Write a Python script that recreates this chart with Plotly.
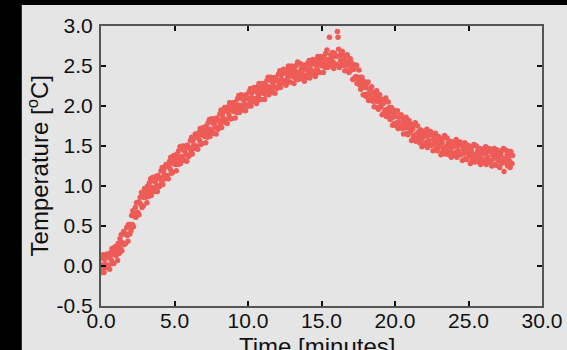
import plotly.graph_objects as go

# Temperature readings, 24 samples per minute (every 2.5 s), t = 0 .. 28 min
# one row per half minute
temperature = [
    0.02, -0.08, 0.10, -0.03, 0.14, -0.08, 0.08, 0.02, 0.11, -0.02, 0.15, 0.01,
    0.00, 0.13, -0.04, 0.10, 0.17, 0.07, 0.22, 0.03, 0.16, 0.03, 0.14, 0.24,
    0.21, 0.13, 0.19, 0.07, 0.28, 0.24, 0.16, 0.34, 0.22, 0.39, 0.19, 0.29,
    0.28, 0.43, 0.27, 0.40, 0.28, 0.40, 0.48, 0.38, 0.31, 0.52, 0.50, 0.40,
    0.52, 0.44, 0.63, 0.52, 0.69, 0.49, 0.66, 0.62, 0.73, 0.61, 0.79, 0.66,
    0.67, 0.80, 0.64, 0.79, 0.86, 0.77, 0.92, 0.73, 0.87, 0.75, 0.86, 0.97,
    0.94, 0.86, 0.91, 0.79, 1.00, 0.96, 0.87, 1.04, 0.92, 1.09, 0.88, 0.98,
    0.97, 1.11, 0.95, 1.06, 0.93, 1.05, 1.12, 1.00, 0.93, 1.13, 1.10, 0.99,
    1.10, 1.01, 1.19, 1.06, 1.23, 1.02, 1.18, 1.13, 1.23, 1.09, 1.27, 1.13,
    1.13, 1.26, 1.09, 1.24, 1.31, 1.21, 1.36, 1.16, 1.29, 1.17, 1.28, 1.38,
    1.35, 1.27, 1.32, 1.19, 1.40, 1.36, 1.27, 1.44, 1.32, 1.49, 1.28, 1.37,
    1.36, 1.50, 1.33, 1.45, 1.32, 1.43, 1.50, 1.39, 1.31, 1.51, 1.48, 1.37,
    1.48, 1.39, 1.57, 1.44, 1.61, 1.40, 1.56, 1.50, 1.60, 1.47, 1.65, 1.50,
    1.50, 1.63, 1.46, 1.60, 1.67, 1.57, 1.72, 1.52, 1.65, 1.53, 1.64, 1.73,
    1.70, 1.62, 1.66, 1.54, 1.75, 1.70, 1.61, 1.79, 1.66, 1.83, 1.62, 1.71,
    1.70, 1.84, 1.67, 1.79, 1.66, 1.77, 1.84, 1.73, 1.65, 1.85, 1.82, 1.71,
    1.82, 1.73, 1.90, 1.78, 1.95, 1.73, 1.89, 1.84, 1.93, 1.80, 1.98, 1.83,
    1.83, 1.96, 1.78, 1.93, 1.99, 1.89, 2.04, 1.84, 1.97, 1.84, 1.95, 2.04,
    2.01, 1.93, 1.97, 1.85, 2.05, 2.01, 1.92, 2.09, 1.97, 2.13, 1.92, 2.01,
    2.00, 2.14, 1.97, 2.09, 1.95, 2.07, 2.13, 2.02, 1.94, 2.14, 2.10, 2.00,
    2.10, 2.00, 2.18, 2.05, 2.22, 2.00, 2.16, 2.10, 2.19, 2.06, 2.23, 2.09,
    2.08, 2.20, 2.03, 2.17, 2.24, 2.13, 2.28, 2.08, 2.20, 2.08, 2.18, 2.28,
    2.24, 2.16, 2.20, 2.08, 2.28, 2.24, 2.14, 2.32, 2.19, 2.36, 2.14, 2.24,
    2.22, 2.36, 2.19, 2.31, 2.17, 2.29, 2.35, 2.24, 2.16, 2.36, 2.32, 2.22,
    2.32, 2.23, 2.40, 2.28, 2.44, 2.23, 2.38, 2.33, 2.42, 2.29, 2.46, 2.32,
    2.31, 2.43, 2.26, 2.40, 2.46, 2.36, 2.50, 2.30, 2.43, 2.30, 2.40, 2.50,
    2.46, 2.37, 2.41, 2.28, 2.49, 2.44, 2.34, 2.51, 2.38, 2.55, 2.33, 2.42,
    2.40, 2.53, 2.36, 2.47, 2.34, 2.45, 2.51, 2.39, 2.31, 2.51, 2.47, 2.36,
    2.46, 2.36, 2.54, 2.41, 2.57, 2.35, 2.51, 2.45, 2.54, 2.40, 2.58, 2.43,
    2.42, 2.54, 2.37, 2.51, 2.58, 2.47, 2.62, 2.42, 2.54, 2.42, 2.52, 2.62,
    2.58, 2.50, 2.54, 2.42, 2.62, 2.58, 2.48, 2.66, 2.53, 2.70, 2.48, 2.58,
    2.56, 2.86, 2.52, 2.64, 2.50, 2.61, 2.67, 2.55, 2.47, 2.66, 2.63, 2.52,
    2.62, 2.52, 2.93, 2.86, 2.71, 2.48, 2.63, 2.57, 2.65, 2.51, 2.68, 2.52,
    2.51, 2.62, 2.44, 2.57, 2.63, 2.51, 2.64, 2.44, 2.55, 2.42, 2.51, 2.59,
    2.55, 2.45, 2.48, 2.33, 2.52, 2.46, 2.35, 2.51, 2.37, 2.51, 2.28, 2.36,
    2.33, 2.45, 2.27, 2.36, 2.21, 2.31, 2.36, 2.23, 2.14, 2.31, 2.26, 2.14,
    2.23, 2.12, 2.28, 2.15, 2.30, 2.07, 2.21, 2.14, 2.22, 2.08, 2.24, 2.08,
    2.06, 2.17, 1.99, 2.12, 2.17, 2.06, 2.19, 1.98, 2.10, 1.96, 2.05, 2.14,
    2.09, 1.99, 2.03, 1.89, 2.08, 2.03, 1.92, 2.08, 1.95, 2.10, 1.87, 1.96,
    1.93, 2.05, 1.87, 1.98, 1.83, 1.93, 1.98, 1.85, 1.76, 1.95, 1.90, 1.78,
    1.87, 1.76, 1.93, 1.79, 1.94, 1.72, 1.86, 1.79, 1.88, 1.73, 1.89, 1.74,
    1.72, 1.84, 1.65, 1.79, 1.84, 1.73, 1.86, 1.66, 1.77, 1.64, 1.73, 1.82,
    1.77, 1.67, 1.71, 1.57, 1.77, 1.71, 1.61, 1.77, 1.63, 1.79, 1.56, 1.65,
    1.62, 1.75, 1.57, 1.68, 1.54, 1.64, 1.70, 1.58, 1.49, 1.68, 1.64, 1.52,
    1.62, 1.52, 1.68, 1.55, 1.71, 1.48, 1.63, 1.57, 1.65, 1.51, 1.68, 1.52,
    1.51, 1.63, 1.44, 1.58, 1.64, 1.52, 1.66, 1.46, 1.57, 1.44, 1.54, 1.62,
    1.58, 1.49, 1.52, 1.39, 1.59, 1.54, 1.43, 1.60, 1.47, 1.63, 1.40, 1.49,
    1.47, 1.60, 1.43, 1.54, 1.39, 1.50, 1.56, 1.44, 1.36, 1.55, 1.50, 1.39,
    1.49, 1.39, 1.55, 1.42, 1.58, 1.36, 1.50, 1.44, 1.53, 1.39, 1.55, 1.40,
    1.39, 1.51, 1.32, 1.46, 1.52, 1.41, 1.54, 1.34, 1.46, 1.33, 1.42, 1.51,
    1.47, 1.38, 1.42, 1.28, 1.48, 1.43, 1.33, 1.50, 1.37, 1.52, 1.30, 1.39,
    1.37, 1.50, 1.33, 1.44, 1.30, 1.41, 1.47, 1.35, 1.27, 1.46, 1.41, 1.30,
    1.40, 1.30, 1.47, 1.33, 1.49, 1.27, 1.42, 1.36, 1.45, 1.30, 1.47, 1.32,
    1.31, 1.43, 1.25, 1.39, 1.45, 1.34, 1.47, 1.27, 1.39, 1.26, 1.36, 1.45,
    1.41, 1.32, 1.36, 1.23, 1.43, 1.38, 1.28, 1.44, 1.31, 1.47, 1.18, 1.34,
    1.32, 1.45, 1.28, 1.39, 1.25, 1.36, 1.43, 1.31, 1.23, 1.43, 1.39, 1.28,
    1.38,
]
samples_per_minute = 24
time_min = [i / samples_per_minute for i in range(len(temperature))]

x_ticks = [0, 5, 10, 15, 20, 25, 30]
x_ticktext = ["0.0", "5.0", "10.0", "15.0", "20.0", "25.0", "30.0"]
y_ticks = [-0.5, 0.0, 0.5, 1.0, 1.5, 2.0, 2.5, 3.0]
y_ticktext = ["-0.5", "0.0", "0.5", "1.0", "1.5", "2.0", "2.5", "3.0"]

W, H = 574, 354
L, R, T, B = 101, 22, 26, 48
pw, ph = W - L - R, H - T - B

def px_x(px):
    return (px - L) / pw

def px_y(py):
    return (H - B - py) / ph

FONT = "Liberation Sans, Arial, Helvetica, sans-serif"
GRAY = "#e5e5e5"
TICK_SIZE = 21
TITLE_SIZE = 24

fig = go.Figure()
fig.add_trace(go.Scatter(
    x=time_min, y=temperature, mode="markers",
    marker=dict(color="#EE5C57", size=5.5, line=dict(width=0)),
    showlegend=False, hoverinfo="skip",
))

axis_common = dict(
    showgrid=False, zeroline=False, showline=True, linecolor="#555555", linewidth=2,
    ticks="inside", ticklen=5, tickwidth=1.5, tickcolor="#111111", mirror="ticks",
    tickfont=dict(family=FONT, size=TICK_SIZE, color="#111111"),
)
fig.update_xaxes(range=[0, 30], tickvals=x_ticks, ticktext=x_ticktext,
                 ticklabelstandoff=-5, **axis_common)
fig.update_yaxes(range=[-0.5, 3.0], tickvals=y_ticks, ticktext=y_ticktext,
                 ticklabelstandoff=2, **axis_common)

fig.add_shape(type="rect", xref="paper", yref="paper",
              x0=px_x(20), x1=px_x(W + 5), y0=px_y(H + 5), y1=px_y(5),
              fillcolor=GRAY, line=dict(width=0), layer="below")

fig.add_annotation(text="Time [minutes]", xref="paper", yref="paper",
                   x=px_x(322), y=px_y(346), xanchor="center", yanchor="middle",
                   showarrow=False, font=dict(family=FONT, size=TITLE_SIZE, color="#111111"))
fig.add_annotation(text="Temperature [<sup>o</sup>C]", xref="paper", yref="paper",
                   x=px_x(37), y=px_y(166), xanchor="center", yanchor="middle",
                   textangle=-90, showarrow=False,
                   font=dict(family=FONT, size=TITLE_SIZE, color="#111111"))

fig.update_layout(
    width=W, height=H,
    margin=dict(l=L, r=R, t=T, b=B, pad=0),
    paper_bgcolor="black", plot_bgcolor=GRAY,
    font=dict(family=FONT, size=TICK_SIZE, color="#111111"),
)

fig.write_html(
    "out.html",
    config={"displayModeBar": False},
    post_script="document.body.style.margin='0px';"
                "document.body.style.overflow='hidden';"
                "document.body.style.background='black';",
)
